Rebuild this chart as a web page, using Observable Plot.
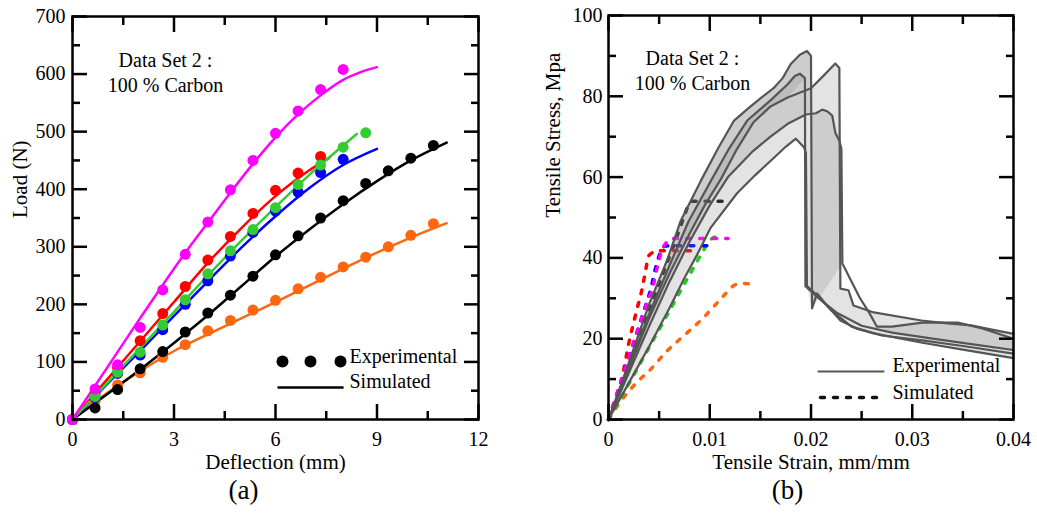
<!DOCTYPE html>
<html><head><meta charset="utf-8">
<script src="https://cdn.jsdelivr.net/npm/d3@7"></script>
<script src="https://cdn.jsdelivr.net/npm/@observablehq/plot@0.6"></script>
<style>
body{margin:0;background:#fff;}
#wrap{display:flex;width:1037px;height:513px;overflow:hidden;background:#fff;}
svg{overflow:visible;}
svg, svg text, svg tspan{font-family:'Liberation Serif','Times New Roman',Times,serif !important;}
</style></head><body><div id="wrap"></div>
<script>
// ---------- Panel (a): Load vs Deflection ----------
const deflection = [0, 0.667, 1.333, 2, 2.667, 3.333, 4, 4.667, 5.333, 6, 6.667, 7.333, 8, 8.667, 9.333, 10, 10.667];
const expMagenta = [0, 53, 95, 160, 225, 287, 343, 399, 450, 497, 536, 573, 608];
const expRed     = [0, 45, 90, 137, 184, 231, 277, 318, 358, 398, 428, 457];
const expBlue    = [0, 38, 80, 112, 156, 200, 241, 284, 325, 362, 395, 429, 452];
const expGreen   = [0, 40, 82, 117, 164, 208, 253, 293, 330, 368, 408, 442, 473, 498];
const expBlack   = [0, 20, 52, 88, 118, 152, 185, 216, 249, 286, 319, 350, 380, 410, 432, 454, 476];
const expOrange  = [0, 32, 60, 81, 108, 130, 154, 172, 190, 207, 227, 247, 265, 282, 300, 320, 340];

const simMagentaX = [0, 1, 2, 3, 3.5, 4, 4.667, 5.333, 6, 6.667, 7.333, 8, 8.5, 9];
const simMagentaY = [0, 88, 176, 262, 303, 342, 394, 444, 490, 530, 563, 590, 603, 612];
const simRedX = [0, 1, 2, 3, 4, 5, 6, 7, 7.6];
const simRedY = [0, 68, 136, 204, 272, 333, 388, 433, 455];
const simBlueX = [0, 1, 2, 3, 4, 5, 6, 7, 8, 9];
const simBlueY = [0, 60, 119, 180, 240, 299, 353, 402, 442, 470];
const simGreenX = [0, 1, 2, 3, 4, 5, 6, 7, 8, 8.4];
const simGreenY = [0, 62, 124, 187, 250, 311, 369, 425, 476, 496];
const simBlackX = [0, 1, 2, 3, 4, 5, 6, 7, 8, 9, 10, 11.06];
const simBlackY = [0, 43, 87, 133, 181, 232, 283, 330, 374, 414, 450, 481];
const simOrangeX = [0, 1, 2, 3, 4, 5, 6, 7, 8, 9, 10, 11.06];
const simOrangeY = [0, 45, 84, 119, 148, 176, 204, 233, 262, 290, 316, 341];

const xTicksA = [0, 3, 6, 9, 12], xMinorA = [1.5, 4.5, 7.5, 10.5];
const yTicksA = [0, 100, 200, 300, 400, 500, 600, 700], yMinorA = [50, 150, 250, 350, 450, 550, 650];

// ---------- Panel (b): Tensile stress vs strain ----------
const c1Rise = [[0,0],[0.002,14],[0.004,28.5],[0.0058,39.5],[0.0071,49],[0.0091,59],[0.0108,67],[0.0124,74],[0.0138,77],[0.015,79.5],[0.0163,82],[0.0172,84.5],[0.018,88],[0.0189,90.3],[0.0196,91.2],[0.02,90]];
const c1Tail = [[0.0201,27.5],[0.0206,31.2],[0.0215,28.5],[0.0229,24.5],[0.0245,22.5],[0.0262,21.3],[0.031,19],[0.035,17.3],[0.04,15.2]];
const c2Rise = [[0,0],[0.002,13],[0.004,26],[0.006,38],[0.0079,49],[0.0101,59],[0.0118,66.6],[0.0137,74],[0.016,79],[0.0177,83],[0.0184,85],[0.0189,85.6],[0.0194,84.5]];
const c2Tail = [[0.01945,33],[0.021,29.5],[0.0225,26.5],[0.025,23.2],[0.028,21.5],[0.032,20],[0.036,18.6],[0.04,17.2]];
const c3Rise = [[0,0],[0.002,12.5],[0.004,25],[0.006,36],[0.008,46],[0.0095,53],[0.0111,59.5],[0.0127,67],[0.0143,73.5],[0.016,77.5],[0.0177,79.7],[0.02,82],[0.0212,85],[0.0224,88.1],[0.0228,87]];
const c3Tail = [[0.0229,32.4],[0.0237,32],[0.0242,28.2],[0.0262,26.5],[0.0309,24.5],[0.0335,23.8],[0.0358,23.3],[0.038,22.2],[0.04,21.2]];
const c4Rise = [[0,0],[0.002,11.5],[0.004,23],[0.006,34],[0.008,44],[0.01,53],[0.0118,60],[0.0143,66.5],[0.016,70],[0.0177,73.2],[0.0195,75.5],[0.0205,75.8],[0.0211,76.7],[0.0216,76.3],[0.0221,75.2],[0.0224,71],[0.0228,69],[0.023,67]];
const c4Tail = [[0.0231,38.6],[0.0248,30.2],[0.0258,26.2],[0.0265,23],[0.028,23],[0.031,24],[0.0345,24],[0.037,22.5],[0.04,20]];
const c5Rise = [[0,0],[0.002,9],[0.004,18],[0.006,27.5],[0.0075,35],[0.0088,41],[0.0101,47.5],[0.0127,56],[0.0145,60.5],[0.016,64],[0.0175,67.5],[0.0185,69.5],[0.0193,67.4],[0.0195,66]];
const c5Tail = [[0.0196,33],[0.0205,31],[0.022,27],[0.024,23],[0.027,20.8],[0.031,19.6],[0.035,18.2],[0.04,16.3]];

const simRedB     = [[0,0],[0.0007,5],[0.0014,11.1],[0.002,18.8],[0.0027,26.2],[0.0034,33.3],[0.0037,37.4],[0.004,40.6],[0.0049,41.8],[0.0084,41.8]];
const simBlueB    = [[0,0],[0.001,7.5],[0.002,15.3],[0.003,23],[0.0037,28.5],[0.0042,32.5],[0.0046,37],[0.005,40.5],[0.0054,42.7],[0.006,43],[0.0105,43]];
const simMagentaB = [[0,0],[0.001,7.7],[0.002,15.2],[0.003,23],[0.0038,29],[0.0044,33],[0.0048,37.5],[0.0053,42],[0.0058,44],[0.0065,44.8],[0.0118,44.8]];
const simBlackB   = [[0,0],[0.002,13.5],[0.004,27],[0.0055,37],[0.0065,43.5],[0.0074,49.8],[0.0079,53],[0.0083,54],[0.0113,54]];
const simGreenB   = [[0,0],[0.002,8.8],[0.004,17.8],[0.006,26.8],[0.008,35.8],[0.0093,41.5],[0.0101,44.6],[0.0108,45.3]];
const simOrangeB  = [[0,0],[0.001,3.8],[0.002,7],[0.003,9.7],[0.004,12],[0.0058,17],[0.0071,20],[0.0093,25],[0.0103,27.7],[0.0114,30.7],[0.0124,33.2],[0.013,33.7],[0.014,33.6]];

const xTicksB = [0, 0.01, 0.02, 0.03, 0.04], xMinorB = [0.005, 0.015, 0.025, 0.035];
const yTicksB = [0, 20, 40, 60, 80, 100], yMinorB = [10, 30, 50, 70, 90];

// ---------- helpers ----------
const serif = "Liberation Serif";
const lineShape = {draw(ctx, l) { ctx.moveTo(0, 0); ctx.lineTo(0, -l); }};
const pts = (xs, ys) => ys.map((v, i) => ({x: xs[i], y: v}));
const P = {x: d => d[0], y: d => d[1]};
const rev = a => a.slice().reverse();
const tx = d => d;
const F = {fontFamily: serif};

function frameTicks(xMaj, xMin, yMaj, yMin) {
  const o = {label: null, tickFormat: () => "", strokeWidth: 2.5};
  return [
    Plot.axisX(xMaj, {...o, anchor: "bottom", tickSize: -15}),
    Plot.axisX(xMaj, {...o, anchor: "top", tickSize: -15}),
    Plot.axisX(xMin, {...o, anchor: "bottom", tickSize: -8}),
    Plot.axisX(xMin, {...o, anchor: "top", tickSize: -8}),
    Plot.axisY(yMaj, {...o, anchor: "left", tickSize: -15}),
    Plot.axisY(yMaj, {...o, anchor: "right", tickSize: -15}),
    Plot.axisY(yMin, {...o, anchor: "left", tickSize: -8}),
    Plot.axisY(yMin, {...o, anchor: "right", tickSize: -8})
  ];
}

const colors = {magenta: "#ff00ff", red: "#ff0000", blue: "#0000ff", green: "#33cc33", black: "#000000", orange: "#ff6610"};

// ---------- Plot (a) ----------
const simA = [
  [simOrangeX, simOrangeY, colors.orange], [simBlackX, simBlackY, colors.black],
  [simBlueX, simBlueY, colors.blue], [simRedX, simRedY, colors.red],
  [simGreenX, simGreenY, colors.green], [simMagentaX, simMagentaY, colors.magenta]
];
const expA = [
  [expOrange, colors.orange], [expBlack, colors.black], [expBlue, colors.blue],
  [expRed, colors.red], [expGreen, colors.green], [expMagenta, colors.magenta]
];

const plotA = Plot.plot({
  width: 518, height: 513,
  marginLeft: 72, marginRight: 40, marginTop: 16, marginBottom: 94,
  x: {domain: [0, 12]}, y: {domain: [0, 700]},
  style: "font-family: 'Liberation Serif', serif; font-size: 20px; color: #000; background: #fff; overflow: visible;",
  marks: [
    ...simA.map(([xs, ys, c]) => Plot.line(pts(xs, ys), {x: "x", y: "y", stroke: c, strokeWidth: 2.5, curve: "monotone-x"})),
    ...expA.map(([ys, c]) => Plot.dot(pts(deflection, ys), {x: "x", y: "y", r: 5.5, fill: c, stroke: "none"})),
    Plot.axisX(xTicksA, {...F, anchor: "bottom", tickSize: 0, tickPadding: 12, label: null, fontSize: 20}),
    Plot.axisY(yTicksA, {...F, anchor: "left", tickSize: 0, tickPadding: 7, label: null, fontSize: 20}),
    ...frameTicks(xTicksA, xMinorA, yTicksA, yMinorA),
    Plot.frame({stroke: "#000", strokeWidth: 2.5}),
    Plot.text(["Data Set 2 :\n100 % Carbon"], {...F, text: tx, frameAnchor: "top-left", dx: 93, dy: 33, lineAnchor: "top", lineHeight: 1.25, textAnchor: "middle", fontSize: 20}),
    Plot.text(["Load (N)"], {...F, text: tx, frameAnchor: "left", rotate: -90, dx: -52, fontSize: 21}),
    Plot.text(["Deflection (mm)"], {...F, text: tx, frameAnchor: "bottom", dy: 49, fontSize: 21}),
    Plot.text(["(a)"], {...F, text: tx, frameAnchor: "bottom", dx: -32, dy: 79, fontSize: 27}),
    // legend
    ...[-196, -168, -138].map(dx => Plot.dot([0], {frameAnchor: "bottom-right", dx, dy: -58, r: 6, fill: "#000", stroke: "none"})),
    Plot.text(["Experimental"], {...F, text: tx, frameAnchor: "bottom-right", dx: -129, dy: -57, textAnchor: "start", fontSize: 20}),
    Plot.vector([0], {frameAnchor: "bottom-right", dx: -200, dy: -32, length: 64, rotate: 90, anchor: "start", shape: lineShape, stroke: "#000", strokeWidth: 2.5}),
    Plot.text(["Simulated"], {...F, text: tx, frameAnchor: "bottom-right", dx: -129, dy: -32, textAnchor: "start", fontSize: 20})
  ]
});

// ---------- Plot (b) ----------
const L1 = [...c1Rise, ...c3Rise.filter(p => p[0] >= c1Rise[c1Rise.length - 1][0]), ...c3Tail, ...rev(c1Tail), c5Tail[0], ...rev(c5Rise)];
const L2 = [...c1Rise, c1Tail[0], c4Tail[0], ...rev(c4Rise)];
const L3 = [...c2Rise, ...rev(c3Rise.filter(p => p[0] < c2Rise[c2Rise.length - 1][0]))];
const L4 = [...c4Tail.filter(p => p[0] >= 0.0265), ...rev(c2Tail.filter(p => p[0] >= 0.0265))];

const dash = {strokeWidth: 3.5, strokeDasharray: "4,9", strokeLinecap: "round", curve: "monotone-x"};
const simB = [
  [simOrangeB, colors.orange], [simGreenB, "#22cc22"], [simBlackB, "#111"],
  [simRedB, colors.red], [simBlueB, colors.blue], [simMagentaB, colors.magenta]
];
const expB = [[...c1Rise, ...c1Tail], [...c2Rise, ...c2Tail], [...c3Rise, ...c3Tail], [...c4Rise, ...c4Tail], [...c5Rise, ...c5Tail]];

const plotB = Plot.plot({
  width: 519, height: 513,
  marginLeft: 90, marginRight: 24, marginTop: 15, marginBottom: 94,
  x: {domain: [0, 0.04]}, y: {domain: [0, 100]},
  style: "font-family: 'Liberation Serif', serif; font-size: 20px; color: #000; background: #fff; overflow: visible;",
  marks: [
    ...simB.map(([d, c]) => Plot.line(d, {...P, stroke: c, ...dash})),
    ...[L1, L2, L3, L4].map(d => Plot.line(d, {...P, fill: "#888", fillOpacity: 0.235, stroke: "none"})),
    ...expB.map(d => Plot.line(d, {...P, stroke: "#555", strokeWidth: 2.2, strokeLinejoin: "round"})),
    Plot.axisX(xTicksB, {...F, anchor: "bottom", tickSize: 0, tickPadding: 12, label: null, fontSize: 20, tickFormat: d3.format("~g")}),
    Plot.axisY(yTicksB, {...F, anchor: "left", tickSize: 0, tickPadding: 6, label: null, fontSize: 20}),
    ...frameTicks(xTicksB, xMinorB, yTicksB, yMinorB),
    Plot.frame({stroke: "#000", strokeWidth: 2.5}),
    Plot.text(["Data Set 2 :\n100 % Carbon"], {...F, text: tx, frameAnchor: "top-left", dx: 84, dy: 32, lineAnchor: "top", lineHeight: 1.25, textAnchor: "middle", fontSize: 20}),
    Plot.text(["Tensile Stress, Mpa"], {...F, text: tx, frameAnchor: "left", rotate: -90, dx: -55, fontSize: 21}),
    Plot.text(["Tensile Strain, mm/mm"], {...F, text: tx, frameAnchor: "bottom", dy: 49, fontSize: 21}),
    Plot.text(["(b)"], {...F, text: tx, frameAnchor: "bottom", dx: -23.5, dy: 79, fontSize: 27}),
    // legend
    Plot.vector([0], {frameAnchor: "bottom-right", dx: -195, dy: -48, length: 65, rotate: 90, anchor: "start", shape: lineShape, stroke: "#555", strokeWidth: 2.2}),
    Plot.text(["Experimental"], {...F, text: tx, frameAnchor: "bottom-right", dx: -121, dy: -48, textAnchor: "start", fontSize: 20}),
    Plot.vector([0], {frameAnchor: "bottom-right", dx: -193, dy: -22, length: 63, rotate: 90, anchor: "start", shape: lineShape, stroke: "#111", strokeWidth: 3.5, strokeDasharray: "4,9", strokeLinecap: "round"}),
    Plot.text(["Simulated"], {...F, text: tx, frameAnchor: "bottom-right", dx: -121, dy: -21, textAnchor: "start", fontSize: 20})
  ]
});

const wrap = document.getElementById("wrap");
wrap.appendChild(plotA);
wrap.appendChild(plotB);
</script></body></html>
